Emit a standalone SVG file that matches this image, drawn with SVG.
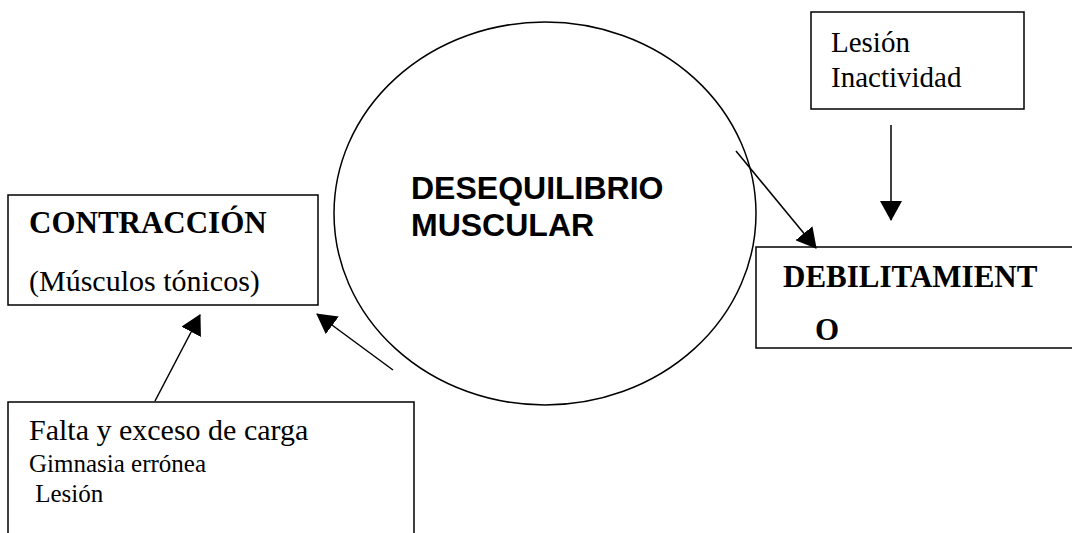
<svg xmlns="http://www.w3.org/2000/svg" width="1072" height="533" viewBox="0 0 1072 533">
<style>
.box{fill:#fff;stroke:#000;stroke-width:1.5}
.t{font-family:"Liberation Serif","Times New Roman",serif;fill:#000}
.b{font-weight:bold}
.a{font-family:"Liberation Sans",Arial,sans-serif;font-weight:bold;font-size:32px;fill:#000}
.c{stroke:#000;stroke-width:1.5;fill:none;marker-end:url(#ah)}
</style>
<defs>
<marker id="ah" markerUnits="userSpaceOnUse" markerWidth="20" markerHeight="22" viewBox="0 0 20 22" refX="19" refY="11" orient="auto">
<path d="M0,0 L20,11 L0,22 Z" fill="#000"/>
</marker>
</defs>
<g id="desequilibrio">
<ellipse cx="545" cy="213.5" rx="211" ry="191.5" fill="#fff" stroke="#000" stroke-width="1.5"/>
<text class="a" x="411" y="199">DESEQUILIBRIO</text>
<text class="a" x="411" y="236">MUSCULAR</text>
</g>
<g id="contraccion">
<rect class="box" x="8" y="195" width="310" height="110"/>
<text class="t b" x="29" y="233" font-size="31">CONTRACCIÓN</text>
<text class="t" x="29" y="291" font-size="30">(Músculos tónicos)</text>
</g>
<g id="causas">
<rect class="box" x="8" y="402" width="406" height="140"/>
<text class="t" x="29" y="440" font-size="30">Falta y exceso de carga</text>
<text class="t" x="29" y="472" font-size="25">Gimnasia errónea</text>
<text class="t" x="29" y="502" font-size="25" xml:space="preserve"> Lesión</text>
</g>
<g id="lesion">
<rect class="box" x="811" y="12" width="213" height="97"/>
<text class="t" x="831" y="52" font-size="29">Lesión</text>
<text class="t" x="831" y="87" font-size="29">Inactividad</text>
</g>
<g id="debilitamiento">
<rect class="box" x="756" y="247" width="330" height="101"/>
<text class="t b" x="783" y="287" font-size="31">DEBILITAMIENT</text>
<text class="t b" x="815" y="340" font-size="31">O</text>
</g>
<g id="connectors">
<line class="c" x1="155" y1="401" x2="200" y2="315"/>
<line class="c" x1="393" y1="370" x2="317" y2="314"/>
<line class="c" x1="891" y1="125" x2="891" y2="220"/>
<line class="c" x1="736" y1="151" x2="816" y2="248"/>
</g>
</svg>
